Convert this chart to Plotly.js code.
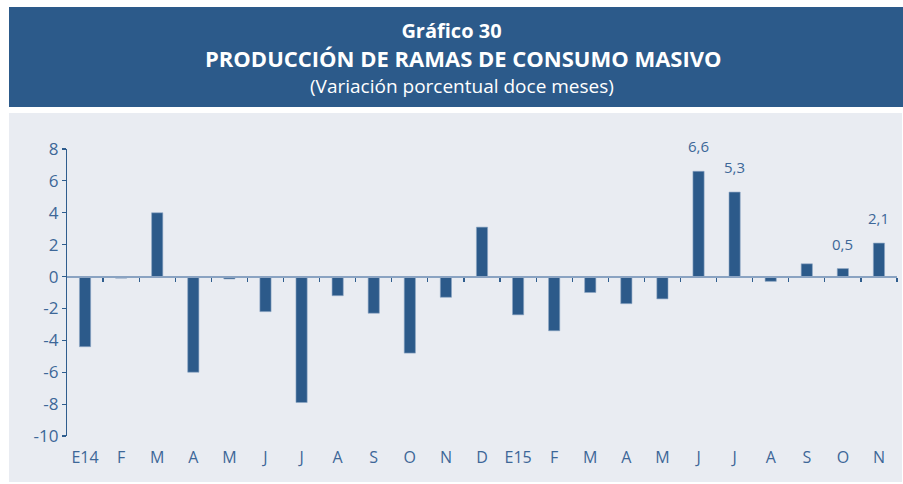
<!DOCTYPE html>
<html>
<head>
<meta charset="utf-8">
<script src="https://cdn.plot.ly/plotly-3.0.1.min.js"></script>
<style>html,body{margin:0;padding:0;background:#fff;}#chart{width:903px;height:484px;}</style>
</head>
<body>
<div id="chart"></div>
<script>
const months = ["E14","F","M","A","M","J","J","A","S","O","N","D","E15","F","M","A","M","J","J","A","S","O","N"];
const values = [-4.4,-0.1,4.0,-6.0,-0.15,-2.2,-7.9,-1.2,-2.3,-4.8,-1.3,3.1,-2.4,-3.4,-1.0,-1.7,-1.4,6.6,5.3,-0.3,0.8,0.5,2.1];
const labeledIdx = [17,18,21,22];
const yTicks = [-10,-8,-6,-4,-2,0,2,4,6,8];
const yTickText = yTicks.map(v => String(v));

const W = 903, H = 484;
const M = {l:67, r:6, t:149, b:48};
const PW = W - M.l - M.r, PH = H - M.t - M.b;
const px = x => (x - M.l) / PW;
const py = y => (H - M.b - y) / PH;

const idx = months.map((_, i) => i);
const boundaries = months.slice(1).map((_, i) => i + 0.5);

const blue = '#2c5a8a';
const textBlue = '#3d6798';
const FONT = 'Open Sans, sans-serif';

const trace = {
  type: 'bar',
  x: idx,
  y: values,
  marker: {color: blue, line: {color: '#8da6c4', width: 0.6}},
  width: 0.31,
  hoverinfo: 'y'
};

const annotations = labeledIdx.map(i => ({
  x: idx[i], y: values[i], xref: 'x', yref: 'y',
  text: values[i].toFixed(1).replace('.', ','),
  showarrow: false, yanchor: 'middle', yshift: 25,
  font: {family: FONT, size: 15, color: textBlue}
}));

annotations.push({
  xref: 'paper', yref: 'paper', x: px(463), y: py(58), xanchor: 'center', yanchor: 'middle',
  text: '<b>PRODUCCIÓN DE RAMAS DE CONSUMO MASIVO</b>', showarrow: false,
  font: {family: FONT, size: 22, color: '#ffffff'}
});
annotations.push({
  xref: 'paper', yref: 'paper', x: px(462), y: py(86), xanchor: 'center', yanchor: 'middle',
  text: '(Variación porcentual doce meses)', showarrow: false,
  font: {family: FONT, size: 19, color: '#ffffff'}
});

const layout = {
  width: W, height: H,
  margin: M,
  paper_bgcolor: '#ffffff',
  plot_bgcolor: 'rgba(0,0,0,0)',
  showlegend: false,
  title: {
    text: '<b>Gráfico 30</b>',
    font: {family: FONT, size: 20, color: '#ffffff'},
    x: 0.5, xref: 'container', y: 1 - 31/H, yref: 'container', yanchor: 'middle'
  },
  shapes: [
    {type: 'rect', xref: 'paper', yref: 'paper', x0: px(9), x1: px(903), y0: py(107), y1: py(7),
     fillcolor: '#2c5a8a', line: {width: 0}, layer: 'below'},
    {type: 'rect', xref: 'paper', yref: 'paper', x0: px(9), x1: px(902), y0: py(482), y1: py(113),
     fillcolor: '#e9ecf2', line: {width: 0}, layer: 'below'}
  ],
  annotations: annotations,
  xaxis: {
    range: [-0.5, months.length - 0.5],
    tickmode: 'array', tickvals: idx, ticktext: months,
    showgrid: false, zeroline: false, showline: false,
    ticks: 'outside', ticklen: 7, tickcolor: 'rgba(0,0,0,0)',
    tickfont: {family: FONT, size: 16, color: textBlue},
    fixedrange: true
  },
  xaxis2: {
    overlaying: 'x', anchor: 'free', position: 10/18,
    range: [-0.5, months.length - 0.5],
    tickmode: 'array', tickvals: boundaries.concat([months.length - 0.5]), showticklabels: false,
    ticks: 'outside', ticklen: 4, tickwidth: 1.2, tickcolor: '#2f5d8e',
    showline: true, linecolor: '#8aa3c2', linewidth: 2,
    showgrid: false, zeroline: false, fixedrange: true
  },
  yaxis: {
    range: [-10, 8],
    tickmode: 'array', tickvals: yTicks, ticktext: yTickText,
    showgrid: false, zeroline: false,
    showline: true, linecolor: '#2f5d8e', linewidth: 1.2,
    ticks: 'outside', ticklen: 4, tickwidth: 1.2, tickcolor: '#2f5d8e',
    tickfont: {family: FONT, size: 17, color: textBlue},
    fixedrange: true
  }
};

const data = [trace, {type: 'scatter', x: [0], y: [null], xaxis: 'x2', showlegend: false, hoverinfo: 'skip'}];
Plotly.newPlot('chart', data, layout, {displayModeBar: false, staticPlot: true});
</script>
</body>
</html>
